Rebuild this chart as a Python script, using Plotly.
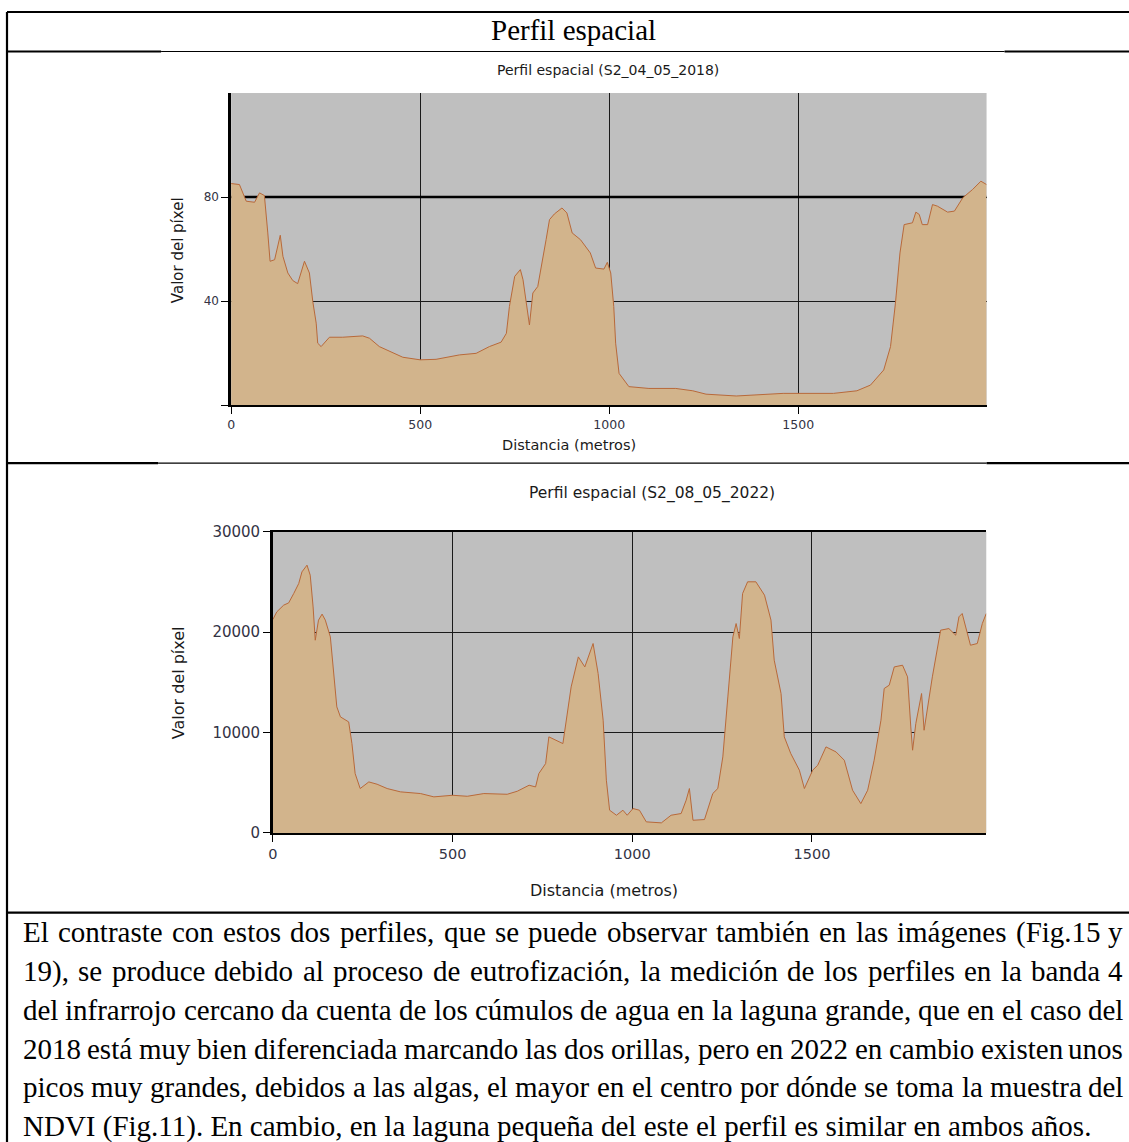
import unicodedata
import plotly.graph_objects as go

W, H = 1129, 1142

# perfil 2018 (banda 4, valor del pixel)
dist_2018 = [0, 22, 40, 62, 75, 88, 97, 103, 115, 130, 137, 150, 163, 176, 194, 207, 216, 225, 229, 238,
             260, 295, 348, 366, 392, 419, 454, 500, 542, 604, 648, 683, 714, 728, 736, 750, 765, 772,
             780, 789, 798, 811, 833, 842, 855, 875, 888, 902, 924, 950, 964, 986, 995, 1004, 1012, 1017,
             1026, 1052, 1105, 1176, 1221, 1256, 1336, 1389, 1460, 1593, 1655, 1691, 1726, 1744, 1757,
             1769, 1780, 1802, 1811, 1820, 1828, 1842, 1855, 1868, 1895, 1913, 1935, 1961, 1983, 1998]
valor_2018 = [85.2, 84.8, 78.4, 78.0, 81.6, 80.6, 66.2, 55.3, 55.9, 65.3, 57.2, 50.8, 47.9, 46.7, 55.3,
              50.8, 39.8, 31.5, 23.8, 22.5, 26.1, 26.1, 26.6, 25.7, 22.5, 20.6, 18.4, 17.4, 17.6, 19.3,
              19.9, 22.5, 24.2, 27.6, 37.9, 49.5, 52.1, 48.2, 39.8, 30.8, 43.1, 45.6, 63.6, 71.3, 73.5,
              75.8, 73.9, 66.2, 63.6, 58.5, 52.7, 52.3, 54.9, 50.8, 37.9, 23.8, 12.2, 7.1, 6.4, 6.4, 5.5,
              4.2, 3.5, 4.0, 4.5, 4.5, 5.5, 7.7, 13.5, 22.5, 39.2, 58.5, 69.4, 70.1, 74.2, 73.3, 69.4,
              69.4, 77.1, 76.5, 74.2, 74.6, 79.7, 82.9, 86.1, 84.8]

# perfil 2022
dist_2022 = [0, 11, 30, 44, 58, 72, 81, 95, 104, 112, 118, 127, 137, 146, 160, 169, 178, 188, 211, 220,
             229, 243, 267, 290, 318, 355, 411, 448, 500, 541, 587, 652, 680, 713, 731, 740, 759, 768,
             807, 830, 850, 868, 891, 905, 919, 928, 937, 956, 974, 986, 1002, 1020, 1039, 1081, 1108,
             1136, 1150, 1159, 1169, 1201, 1224, 1238, 1252, 1266, 1280, 1289, 1298, 1307, 1321, 1344,
             1368, 1386, 1395, 1414, 1423, 1441, 1465, 1479, 1502, 1516, 1539, 1567, 1590, 1613, 1636,
             1655, 1673, 1692, 1701, 1715, 1729, 1752, 1766, 1775, 1780, 1789, 1805, 1812, 1822, 1835,
             1858, 1881, 1900, 1909, 1918, 1932, 1941, 1960, 1974, 1985]
valor_2022 = [21260, 22030, 22690, 22920, 23850, 24850, 26010, 26680, 25680, 22520, 19200, 21200, 21800,
              21200, 19530, 15880, 12560, 11560, 11060, 8900, 5910, 4420, 5080, 4850, 4420, 4090, 3920,
              3590, 3750, 3650, 3920, 3850, 4150, 4750, 4580, 5910, 6910, 9570, 8900, 14550, 17540,
              16540, 18870, 15880, 11230, 5250, 2260, 1760, 2260, 1760, 2430, 2260, 1100, 1000, 1760,
              1930, 3260, 4420, 1260, 1330, 3920, 4420, 7570, 13550, 19530, 20860, 19370, 23850, 25020,
              25020, 23690, 21200, 17210, 13890, 9570, 7910, 6250, 4420, 6250, 6740, 8570, 8070, 7240,
              4250, 2920, 4250, 7240, 11230, 14390, 14720, 16540, 16710, 15550, 10560, 8240, 10900,
              13890, 10230, 12560, 15550, 20200, 20360, 19700, 21530, 21860, 19870, 18700, 18870,
              20860, 21860]

ticks_x = [0, 500, 1000, 1500]
ticks_y_2018 = [0, 40, 80]
etiquetas_y_2018 = ["", "40", "80"]
ticks_y_2022 = [0, 10000, 20000, 30000]
etiquetas_y_2022 = ["0", "10000", "20000", "30000"]

encabezado = "Perfil espacial"
titulos = ["Perfil espacial (S2_04_05_2018)", "Perfil espacial (S2_08_05_2022)"]
eje_x = "Distancia (metros)"
eje_y = "Valor del píxel"

parrafo = [
    "El contraste con estos dos perfiles, que se puede observar también en las imágenes (Fig.15 y",
    "19), se produce debido al proceso de eutrofización, la medición de los perfiles en la banda 4",
    "del infrarrojo cercano da cuenta de los cúmulos de agua en la laguna grande, que en el caso del",
    "2018 está muy bien diferenciada marcando las dos orillas, pero en 2022 en cambio existen unos",
    "picos muy grandes, debidos a las algas, el mayor en el centro por dónde se toma la muestra del",
    "NDVI (Fig.11). En cambio, en la laguna pequeña del este el perfil es similar en ambos años.",
]


# la captura sale un poco escalada, se compensa aqui
def X(p):
    return ((p - 5) / 0.995) / W


def Y(p):
    return 1 - ((p - 9) / 0.984) / H


SANS = "Tahoma, DejaVu Sans, sans-serif"
SERIF = "Liberation Serif, Times New Roman, serif"
GRID = "#1a1a1a"
FONDO = "#bfbfbf"
RELLENO = "#d2b48c"
BORDE = "#b8693a"
TICK = "#333344"

fig = go.Figure()
fig.add_trace(go.Scatter(x=dist_2018, y=valor_2018, fill="tozeroy", mode="lines",
                         line=dict(color=BORDE, width=1), fillcolor=RELLENO,
                         xaxis="x", yaxis="y", hoverinfo="skip"))
fig.add_trace(go.Scatter(x=dist_2022, y=valor_2022, fill="tozeroy", mode="lines",
                         line=dict(color=BORDE, width=1), fillcolor=RELLENO,
                         xaxis="x2", yaxis="y2", hoverinfo="skip"))

ax_common = dict(showgrid=True, gridcolor=GRID, gridwidth=1, zeroline=False, ticks="outside",
                 ticklen=7, tickcolor="black", showline=True, linecolor="black", fixedrange=True)

fig.update_layout(
    width=W, height=H, margin=dict(l=0, r=0, t=0, b=0),
    paper_bgcolor="white", plot_bgcolor=FONDO, showlegend=False,
    xaxis=dict(ax_common, domain=[X(231), X(986)], range=[0, 1998], anchor="y",
               tickvals=ticks_x, linewidth=1.5,
               tickfont=dict(family=SANS, size=12.5, color=TICK)),
    yaxis=dict(ax_common, domain=[Y(405), Y(93)], range=[0, 120], anchor="x",
               tickvals=ticks_y_2018, ticktext=etiquetas_y_2018, linewidth=2.5,
               tickfont=dict(family=SANS, size=12, color=TICK)),
    xaxis2=dict(ax_common, domain=[X(272.7), X(985.7)], range=[0, 1985], anchor="y2",
                tickvals=ticks_x, linewidth=1.5, mirror=True,
                tickfont=dict(family=SANS, size=14.5, color=TICK)),
    yaxis2=dict(ax_common, domain=[Y(832.7), Y(531.7)], range=[0, 30000], anchor="x2",
                tickvals=ticks_y_2022, ticktext=etiquetas_y_2022, linewidth=2.5,
                tickfont=dict(family=SANS, size=15, color=TICK)),
)

# linea gruesa en 80 del primer perfil
fig.add_shape(type="line", xref="x", yref="y", x0=0, x1=1998, y0=80, y1=80,
              line=dict(color="black", width=2.5), layer="between")

# titulos y ejes de cada grafico
anots = [
    (titulos[0], 608, 70, 14, 0),
    (eje_x, 569, 445, 14.5, 0),
    (eje_y, 178, 250, 15, -90),
    (titulos[1], 652, 493, 15.5, 0),
    (eje_x, 604, 890, 16, 0),
    (eje_y, 178, 683, 16, -90),
]
for txt, x, y, s, rot in anots:
    fig.add_annotation(text=txt, x=X(x), y=Y(y), xref="paper", yref="paper", showarrow=False,
                       xanchor="center", yanchor="middle", textangle=rot,
                       font=dict(family=SANS, size=s, color="#1a1a1a"))

# tabla del documento
fig.add_annotation(text=encabezado, x=X(573), y=Y(30), xref="paper", yref="paper", showarrow=False,
                   xanchor="center", yanchor="middle", font=dict(family=SERIF, size=29, color="black"))

bordes = [
    (7, 12, W + 10, 12, 2.2), (7, 12, 7, H + 20, 2.2),
    (7, 51.5, 161, 51.5, 2.2), (161, 51.5, 1004, 51.5, 1.2), (1004, 51.5, W + 10, 51.5, 2.2),
    (7, 463, 158, 463, 2.2), (158, 463, 986, 463, 1.2), (986, 463, W + 10, 463, 2.2),
    (7, 912.5, W + 10, 912.5, 2.2),
]
for x0, y0, x1, y1, w in bordes:
    fig.add_shape(type="line", xref="paper", yref="paper", x0=X(x0), y0=Y(y0), x1=X(x1), y1=Y(y1),
                  line=dict(color="black", width=w))

# parrafo justificado (anchos aproximados de Times)
TW = {}
for grp, w in [("abdghknopquvxy", 500), ("acez", 444), ("fr", 333), ("ijlt", 278), ("m", 778),
               ("s", 389), ("w", 722), ("ADGHKNOQUVXY", 722), ("BCR", 667), ("ELTZ", 611),
               ("FPS", 556), ("I", 333), ("J", 389), ("M", 889), ("W", 944), ("0123456789", 500),
               (" ,.", 250), ("()", 333)]:
    for ch in grp:
        TW[ch] = w

FS = 29


def ancho(word):
    base = unicodedata.normalize("NFD", word)
    return sum(TW.get(c, 0) for c in base if not unicodedata.combining(c)) * FS / 1000


left, right = 21.5, 1123
for i, linea in enumerate(parrafo):
    y = 932 + 38.8 * i
    if i == len(parrafo) - 1:
        fig.add_annotation(text=linea, x=X(left), y=Y(y), xref="paper", yref="paper", showarrow=False,
                           xanchor="left", yanchor="middle", borderpad=0,
                           font=dict(family=SERIF, size=FS, color="black"))
        continue
    words = linea.split(" ")
    total = sum(ancho(w) for w in words)
    gap = (right - left - total) / (len(words) - 1)
    xpos = left
    for j, w in enumerate(words):
        last = j == len(words) - 1
        fig.add_annotation(text=w, x=X(right if last else xpos), y=Y(y), xref="paper", yref="paper",
                           showarrow=False, xanchor="right" if last else "left", yanchor="middle",
                           borderpad=0, font=dict(family=SERIF, size=FS, color="black"))
        xpos += ancho(w) + gap

# sin margen del body para que la figura ocupe la ventana exacta
fig.write_html("out.html", config={"displayModeBar": False},
               post_script="document.body.style.margin='0';")
